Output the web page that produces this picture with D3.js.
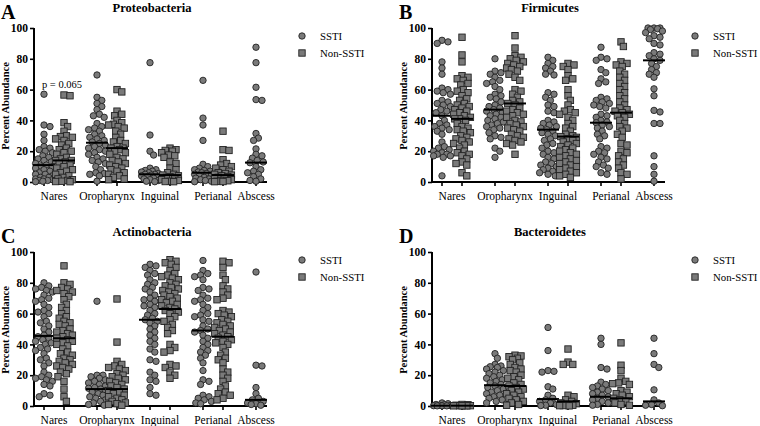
<!DOCTYPE html>
<html>
<head>
<meta charset="utf-8">
<script src="https://cdn.jsdelivr.net/npm/d3@7/dist/d3.min.js"></script>
<style>
  html, body { margin: 0; padding: 0; background: #fff; }
  svg { display: block; }
</style>
</head>
<body>
<svg id="chart" width="760" height="426" font-family="Liberation Serif"></svg>
<script>
// ---------- categories / labels ----------
const categories = ["Nares", "Oropharynx", "Inguinal", "Perianal", "Abscess"];
const groups = ["SSTI", "Non-SSTI"];
const yTicks = [0, 20, 40, 60, 80, 100];
const panelTitles = ["Proteobacteria", "Firmicutes", "Actinobacteria", "Bacteroidetes"];
const panelLetters = ["A", "B", "C", "D"];
const yAxisTitle = "Percent Abundance";
const pAnnotation = "p = 0.065";

// ---------- A: Proteobacteria ----------
const proteoNaresSSTI = [57, 37, 36, 31, 27, 23, 22, 21, 20, 19, 17, 16, 15, 14, 13, 12, 11, 10.5, 10, 9, 8, 7, 6, 5, 5, 4, 3, 3, 2, 2, 1.5, 1, 1, 0.5, 0.2];
const proteoNaresNon = [56.5, 56, 38.5, 36, 33, 30, 29.5, 29, 28, 27, 25, 24, 22, 21, 20, 19, 18, 16, 15, 14, 14, 13, 12, 11, 10, 9, 8, 7, 6, 5, 4, 3, 2, 1.5, 1, 0.5, 0.3, 0.2];
const proteoOroSSTI = [69.5, 55, 53, 51, 49, 47, 44, 43, 42, 38, 36, 35, 34, 33, 31, 30, 29, 28, 27, 26, 25, 24, 23, 22, 21, 20, 19, 18, 16, 15, 14, 13, 12, 10, 8, 6, 5.5, 5, 4, 0.5];
const proteoOroNon = [60, 58.5, 46, 44, 43, 40, 38.5, 37.5, 37, 36, 35, 33, 31, 29, 27, 26, 25, 23, 22, 22, 21, 20, 19, 18, 16, 15, 14, 13, 12, 11, 10, 9, 8, 7, 6, 5, 4, 3, 2, 1.5];
const proteoIngSSTI = [77.5, 30.5, 20, 17.5, 9, 8, 7.5, 7, 6.5, 6, 5.5, 5, 5, 4.5, 4, 3.5, 3, 2.5, 2, 1.5, 1, 0.5, 0.2];
const proteoIngNon = [22, 21, 20.5, 20, 19, 17.5, 17, 16, 13, 12, 9, 8, 6, 5, 4.5, 4, 3.5, 3, 2, 1.5, 1, 0.5, 0.3, 0.2];
const proteoPeriSSTI = [66, 41.5, 37, 27, 11.5, 10, 9, 8, 7.5, 7, 6.5, 6, 5.5, 5, 4.5, 4, 3, 2.5, 2, 1.5, 1, 0.5, 0.2];
const proteoPeriNon = [33, 21, 20.5, 14.5, 12, 11, 10, 9, 8, 7, 6, 5.5, 5, 4.5, 4, 3.5, 3, 2.5, 2, 1.5, 1, 0.8, 0.5, 0.3, 0.2];
const proteoAbsSSTI = [87.5, 77.5, 61.5, 53.5, 53, 31.5, 28.5, 27, 21.5, 18, 17, 15.5, 14, 13, 12.5, 10, 8, 7, 6, 5, 3.5, 2, 1, 0.5];
const proteoMedians = [11, 14, 25.5, 22, 5, 4.5, 6, 4.5, 12.6];

// ---------- B: Firmicutes ----------
const firmNaresSSTI = [92, 91, 90, 78, 74, 70, 61, 60, 59, 58, 57, 53, 52, 51, 50, 49, 47, 46, 45, 43, 40, 38, 37, 36, 35, 34, 33, 31, 26, 23, 22, 21, 20, 19, 18, 18, 17, 17, 16, 4];
const firmNaresNon = [94, 82.5, 78, 69, 68, 67, 66, 64, 63, 60, 59, 58, 56, 54, 53, 51, 50, 49, 48, 47, 46, 45, 44, 43, 42, 41, 41, 40, 38, 36, 35, 34, 33, 32, 30, 29, 28, 27, 26, 25, 24, 22, 20, 19, 18, 17, 15, 13, 12, 11, 6, 4];
const firmOroSSTI = [80, 72, 71, 70, 68, 66, 65, 64, 62, 60, 57, 56, 55, 54, 52, 50, 49, 48, 47, 46, 45, 44, 43, 42, 41, 40, 39, 38, 37, 36, 35, 34, 32, 30, 29, 28, 22, 20, 16];
const firmOroNon = [95, 87, 82, 81, 80, 79, 78, 77, 76, 75, 74, 73, 72, 70, 68, 66, 60, 59, 57, 55, 53, 52, 51, 50, 48, 47, 46, 45, 44, 43, 42, 40, 39, 38, 37, 36, 35, 34, 33, 31, 30, 29, 28, 27, 26, 25, 24, 18];
const firmIngSSTI = [81, 79, 77, 75, 74, 72, 70, 69.5, 58, 57, 55, 53, 50, 49, 46, 45, 40, 39, 38, 37, 36, 35, 34, 33, 32, 31, 30, 28, 27, 25, 24, 22, 20, 19, 18, 16, 15, 13, 12, 11, 10, 9, 8, 7, 6, 5, 4];
const firmIngNon = [77, 76, 75, 73, 69, 67, 66, 60, 56, 53, 50, 47, 46, 45, 44, 42, 40, 38, 36, 35, 33, 31, 30, 29.5, 29, 28, 27, 26, 25, 24, 23, 22, 21, 20, 19, 18, 17, 16, 15, 14, 13, 12, 11, 10, 9, 8, 7, 6, 5, 4, 3];
const firmPeriSSTI = [87.5, 81, 80, 79, 73, 71, 67, 65, 64, 55, 54, 53, 52, 51, 50, 49, 48, 44, 43, 42, 40, 39, 38.5, 37, 36, 35, 33, 31, 30, 28, 23, 22, 20, 19, 18, 16, 15, 13, 11, 10, 9, 6, 5];
const firmPeriNon = [91, 88, 78, 77, 76, 75, 72, 70, 68, 66, 64, 62, 60, 58, 56, 54, 52, 50, 48, 47, 46, 45, 44, 43, 42, 40, 38, 36, 35, 33, 31, 29, 25, 24, 20, 19, 17, 15, 13, 11, 9, 6, 5, 2];
const firmAbsSSTI = [100, 100, 100, 99.5, 99, 98, 97, 95, 94, 93, 90, 89, 84, 83, 82, 80, 79, 77, 75, 73, 71, 70, 68, 60.5, 56, 46.5, 45.5, 38, 38, 17, 10, 5, 0.5];
const firmMedians = [43, 41, 47, 51, 34, 29.5, 38.5, 45, 79];

// ---------- C: Actinobacteria ----------
const actiNaresSSTI = [80, 78, 77, 76, 75, 74, 72, 70, 69, 68, 66, 64, 62, 61, 60, 58, 55, 54, 52, 50, 48, 46, 45, 44, 43, 42, 41, 40, 38, 37, 36, 34, 31, 30, 28, 26, 22, 20, 19, 18, 17, 16, 14, 13, 8, 7, 6];
const actiNaresNon = [91, 80, 79, 77, 76, 75, 74, 73, 71, 69, 66, 64, 62, 60, 58, 57, 55, 54, 53, 52, 50, 49, 48, 47, 46, 45, 44, 43, 42, 41, 40, 39, 37, 35, 34, 33, 31, 30, 29, 28, 27, 26, 25, 24, 22, 21, 19, 16, 11, 6, 3];
const actiOroSSTI = [68, 20, 20, 19, 18, 17, 16, 15, 14, 13, 12, 11.5, 11, 10, 9, 8, 7, 6, 5, 4, 3, 2, 1, 0.5];
const actiOroNon = [69.5, 41.5, 29, 27, 26, 25, 24, 23, 21, 20, 19, 18, 17, 16, 15, 14, 13, 12, 11, 10, 9, 8, 7, 6, 5, 4, 3, 2, 1.5, 1, 0.5];
const actiIngSSTI = [92, 91, 90, 88, 86, 85, 82, 80, 79, 77, 76, 74, 72, 70, 69, 68, 66, 65, 64, 62, 60, 59, 57, 56, 55, 54, 52, 50, 48, 46, 44, 42, 40, 37, 35, 30, 29, 22, 20, 17, 16, 12, 8, 7];
const actiIngNon = [95, 94, 93, 92, 90, 88, 86, 85, 84, 83, 82, 80, 79, 78, 77, 76, 75, 74, 73, 72, 71, 70, 69, 68, 67, 66, 65, 64, 63, 62, 61, 60, 58, 56, 55, 53, 51, 49, 47, 40, 38, 36, 35, 27, 26, 25, 22, 20, 18];
const actiPeriSSTI = [94.5, 88, 86, 85, 84, 82, 77, 76, 75, 72, 70, 69, 68, 66, 64, 62, 60, 59, 58, 56, 55, 52, 50, 49, 48, 46, 44, 42, 40, 38, 36, 35, 33, 31, 28, 23, 17, 16, 14, 7, 6, 5, 4, 3, 2, 1.5];
const actiPeriNon = [94, 93, 90, 85, 82, 78, 76, 74, 72, 70, 69, 62, 61, 60, 59, 58, 56, 55, 54, 53, 52, 51, 50, 49, 48, 47, 46, 45, 44, 43, 42, 41, 40, 38, 35, 33, 31, 30, 28, 24, 22, 20, 18, 16, 13, 11, 9, 8, 7, 5, 4];
const actiAbsSSTI = [87, 26.5, 26, 12, 8, 5, 4, 3, 2, 1.5, 1, 0.5];
const actiMedians = [45.5, 44, 11, 11, 56, 63, 49, 45, 4];

// ---------- D: Bacteroidetes ----------
const bactNaresSSTI = [2, 1.5, 1, 0.8, 0.5, 0.3, 0.2, 0.1, 0.1, 0.1];
const bactNaresNon = [1, 0.8, 0.5, 0.3, 0.2, 0.2, 0.1, 0.1, 0.1];
const bactOroSSTI = [34, 31, 27, 26, 25.5, 25, 24, 23, 22, 21, 20, 19, 18, 17, 16, 15, 14, 13, 12, 11, 10, 9, 8, 7, 6, 5, 4, 3, 2];
const bactOroNon = [33, 32.5, 32, 31, 30, 28, 27, 25, 24, 23, 22, 20, 19, 18, 17, 15, 14, 13, 12, 11, 10, 9, 8, 7, 6, 5, 4, 3, 2, 1, 0.5];
const bactIngSSTI = [51, 36, 23, 22.5, 22, 12.5, 11, 7, 5, 4, 3, 2, 1, 0.5, 0.3];
const bactIngNon = [37, 28.5, 27, 27, 7, 6, 4, 3, 2, 1.5, 1, 0.5, 0.3, 0.2, 0.1];
const bactPeriSSTI = [44, 40, 25, 24, 15.5, 14, 13, 12, 11, 10, 9, 8, 7, 6, 5, 4, 3, 2, 1, 0.5];
const bactPeriNon = [41, 26.5, 23, 18, 16, 15, 14.5, 14, 10, 9, 8, 7, 6, 5, 4, 3, 2, 1, 0.5];
const bactAbsSSTI = [44, 34, 27, 25, 10.5, 4, 2, 1, 0.5, 0.2];
const bactMedians = [0.2, 0.2, 13.5, 13, 4.5, 3, 6, 5, 3];

// column order within each panel
const columnKeys = [
  ["Nares", "SSTI"], ["Nares", "Non-SSTI"],
  ["Oropharynx", "SSTI"], ["Oropharynx", "Non-SSTI"],
  ["Inguinal", "SSTI"], ["Inguinal", "Non-SSTI"],
  ["Perianal", "SSTI"], ["Perianal", "Non-SSTI"],
  ["Abscess", "SSTI"]
];

const panels = [
  { title: panelTitles[0], letter: panelLetters[0], ax: 34, y0: 182, y100: 28, legendX: 302,
    cols: [proteoNaresSSTI, proteoNaresNon, proteoOroSSTI, proteoOroNon, proteoIngSSTI, proteoIngNon, proteoPeriSSTI, proteoPeriNon, proteoAbsSSTI],
    medians: proteoMedians, note: true },
  { title: panelTitles[1], letter: panelLetters[1], ax: 432, y0: 182, y100: 28, legendX: 695,
    cols: [firmNaresSSTI, firmNaresNon, firmOroSSTI, firmOroNon, firmIngSSTI, firmIngNon, firmPeriSSTI, firmPeriNon, firmAbsSSTI],
    medians: firmMedians },
  { title: panelTitles[2], letter: panelLetters[2], ax: 34, y0: 406, y100: 252, legendX: 302,
    cols: [actiNaresSSTI, actiNaresNon, actiOroSSTI, actiOroNon, actiIngSSTI, actiIngNon, actiPeriSSTI, actiPeriNon, actiAbsSSTI],
    medians: actiMedians },
  { title: panelTitles[3], letter: panelLetters[3], ax: 432, y0: 406, y100: 252, legendX: 695,
    cols: [bactNaresSSTI, bactNaresNon, bactOroSSTI, bactOroNon, bactIngSSTI, bactIngNon, bactPeriSSTI, bactPeriNon, bactAbsSSTI],
    medians: bactMedians }
];

const FONT = "Liberation Serif";
const FILL = "#7a7a7a", STROKE = "#222";
const R = 3.2, SQ = 6.4;

// deterministic beeswarm: offset each point horizontally to avoid overlap
function swarm(values, y, minDist, step, maxOff) {
  const pts = values.map(v => ({ v, py: y(v) })).sort((a, b) => a.py - b.py);
  const placed = [];
  for (const p of pts) {
    let best = 0, bestScore = -1;
    const n = Math.floor(maxOff / step);
    for (let k = 0; k <= 2 * n; k++) {
      const o = k === 0 ? 0 : (k % 2 ? 1 : -1) * Math.ceil(k / 2) * step;
      let md = Infinity;
      for (const q of placed) md = Math.min(md, Math.hypot(q.dx - o, q.py - p.py));
      if (md >= minDist) { best = o; bestScore = Infinity; break; }
      if (md > bestScore) { bestScore = md; best = o; }
    }
    p.dx = best;
    placed.push(p);
  }
  return pts;
}

const svg = d3.select("#chart");

function txt(sel, size, bold) {
  return sel.attr("font-family", FONT).attr("font-size", size).attr("font-weight", bold ? "bold" : "normal").attr("fill", "#000");
}

panels.forEach(P => {
  const g = svg.append("g");
  const y = d3.scaleLinear().domain([0, 100]).range([P.y0, P.y100]);
  const xCat = d3.scalePoint().domain(categories).range([P.ax + 20, P.ax + 232]);
  const xGrp = d3.scalePoint().domain(groups).range([-10, 10]);
  const colX = i => xCat(columnKeys[i][0]) + xGrp(columnKeys[i][1]);

  // title & letter
  txt(g.append("text"), 12.5, true).attr("x", P.ax + 118).attr("y", P.y100 - 16)
    .attr("text-anchor", "middle").text(P.title);
  txt(g.append("text"), 20, true).attr("x", P.ax - 33).attr("y", P.y100 - 9).text(P.letter);

  // y axis
  const yAxis = d3.axisLeft(y).tickValues(yTicks).tickSize(4).tickPadding(2);
  const ya = g.append("g").attr("transform", `translate(${P.ax},0)`).call(yAxis);
  ya.attr("font-family", FONT);
  ya.select(".domain").attr("stroke", "#000").attr("stroke-width", 2).attr("d", `M0,${P.y100}V${P.y0 + 1}`);
  ya.selectAll(".tick line").attr("stroke", "#000").attr("stroke-width", 1.6);
  txt(ya.selectAll(".tick text"), 11.5, true);

  // y axis title
  txt(g.append("text"), 10.5, true)
    .attr("transform", `translate(${P.ax - 25},${(P.y0 + P.y100) / 2 + 1}) rotate(-90)`)
    .attr("text-anchor", "middle").text(yAxisTitle);

  // x axis line + ticks
  g.append("line").attr("x1", P.ax - 1).attr("x2", P.ax + 233).attr("y1", P.y0).attr("y2", P.y0)
    .attr("stroke", "#000").attr("stroke-width", 2);
  columnKeys.forEach((k, i) => {
    g.append("line").attr("x1", colX(i)).attr("x2", colX(i)).attr("y1", P.y0).attr("y2", P.y0 + 4)
      .attr("stroke", "#000").attr("stroke-width", 1.6);
  });
  categories.forEach(c => {
    const cx = c === "Abscess" ? xCat(c) + xGrp("SSTI") : xCat(c);
    txt(g.append("text"), 11.5, false).attr("x", cx).attr("y", P.y0 + 18).attr("text-anchor", "middle").text(c);
  });

  // points
  P.cols.forEach((vals, i) => {
    const cx = colX(i);
    const pts = swarm(vals, y, 5.2, 1.2, 8.5);
    const isSq = columnKeys[i][1] === "Non-SSTI";
    if (isSq) {
      g.append("g").selectAll("rect").data(pts).join("rect")
        .attr("x", d => cx + d.dx - SQ / 2).attr("y", d => d.py - SQ / 2)
        .attr("width", SQ).attr("height", SQ)
        .attr("fill", FILL).attr("stroke", STROKE).attr("stroke-width", 0.9);
    } else {
      g.append("g").selectAll("circle").data(pts).join("circle")
        .attr("cx", d => cx + d.dx).attr("cy", d => d.py).attr("r", R)
        .attr("fill", FILL).attr("stroke", STROKE).attr("stroke-width", 0.9);
    }
    // median line
    g.append("line").attr("x1", cx - 11).attr("x2", cx + 11)
      .attr("y1", y(P.medians[i])).attr("y2", y(P.medians[i]))
      .attr("stroke", "#000").attr("stroke-width", 2);
  });

  if (P.note) {
    txt(g.append("text"), 10.5, false).attr("x", xCat("Nares") + 8).attr("y", y(60) - 2)
      .attr("text-anchor", "middle").text(pAnnotation);
  }

  // legend
  const ly = P.y100 + 8;
  g.append("circle").attr("cx", P.legendX).attr("cy", ly).attr("r", R)
    .attr("fill", FILL).attr("stroke", STROKE).attr("stroke-width", 0.9);
  txt(g.append("text"), 10.8, false).attr("x", P.legendX + 18).attr("y", ly + 4).text(groups[0]);
  g.append("rect").attr("x", P.legendX - SQ / 2).attr("y", ly + 17 - SQ / 2).attr("width", SQ).attr("height", SQ)
    .attr("fill", FILL).attr("stroke", STROKE).attr("stroke-width", 0.9);
  txt(g.append("text"), 10.8, false).attr("x", P.legendX + 18).attr("y", ly + 21).text(groups[1]);
});
</script>
</body>
</html>
